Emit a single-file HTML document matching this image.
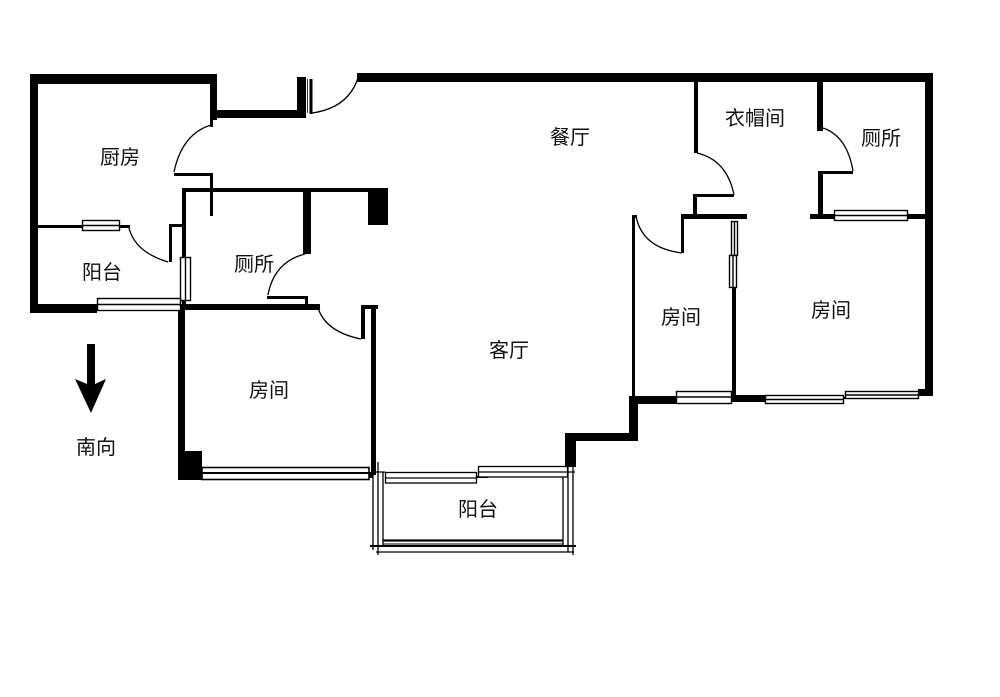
<!DOCTYPE html>
<html><head><meta charset="utf-8"><style>
html,body{margin:0;padding:0;background:#fff;width:1000px;height:697px;overflow:hidden}
svg{display:block}
text{font-family:"Liberation Sans","Noto Sans CJK SC",sans-serif;font-size:20px;fill:#111}
</style></head><body>
<svg width="1000" height="697" viewBox="0 0 1000 697" xmlns="http://www.w3.org/2000/svg">
<rect width="1000" height="697" fill="#fff"/>
<g style="filter:blur(.35px)">
<g fill="#000">
<!-- kitchen outer -->
<rect x="30" y="74" width="187" height="10"/>
<rect x="30" y="74" width="8" height="239"/>
<rect x="30" y="304" width="67" height="9"/>
<rect x="210" y="74" width="7" height="46"/>
<rect x="210" y="110" width="96" height="8"/>
<rect x="297" y="77" width="9" height="41"/>
<rect x="210" y="118" width="3" height="9"/>
<!-- top wall / right wall -->
<rect x="357" y="73" width="576" height="9"/>
<rect x="925" y="73" width="8" height="323"/>
<!-- kitchen door -->
<rect x="174" y="173" width="39" height="3"/>
<rect x="210" y="173" width="3" height="43"/>
<!-- bath top -->
<rect x="182" y="188" width="190" height="4"/>
<rect x="368" y="188" width="20" height="37"/>
<rect x="182" y="188" width="4" height="120"/>
<rect x="303" y="188" width="8" height="66"/>
<!-- balcony partition -->
<rect x="38" y="225" width="44" height="3"/>
<rect x="119" y="225" width="11" height="3"/>
<rect x="169" y="224" width="3" height="38"/>
<rect x="169" y="224" width="14" height="3"/>
<!-- horizontal y 306 -->
<rect x="180" y="304" width="140" height="6"/>
<rect x="267" y="296" width="41" height="3"/>
<rect x="305" y="296" width="3" height="9"/>
<!-- lower room -->
<rect x="178" y="304" width="7" height="176"/>
<rect x="178" y="451" width="24" height="29"/>
<rect x="361" y="305" width="4" height="34"/>
<rect x="361" y="305" width="17" height="4"/>
<rect x="371" y="305" width="5" height="170"/>
<!-- step walls -->
<rect x="565" y="433" width="11" height="34"/>
<rect x="565" y="433" width="73" height="8"/>
<rect x="629" y="396" width="9" height="45"/>
<rect x="629" y="396" width="47" height="8"/>
<rect x="632" y="215" width="3" height="182"/>
<rect x="632" y="215" width="5" height="3"/>
<rect x="731" y="395" width="34" height="7"/>
<rect x="732" y="287" width="4" height="112"/>
<!-- cloakroom -->
<rect x="694" y="82" width="4" height="71"/>
<rect x="693" y="194" width="41" height="3"/>
<rect x="693" y="194" width="4" height="22"/>
<rect x="682" y="214" width="65" height="5"/>
<rect x="681" y="214" width="3" height="39"/>
<!-- right bath -->
<rect x="817" y="82" width="6" height="49"/>
<rect x="818" y="171" width="35" height="3"/>
<rect x="818" y="171" width="5" height="46"/>
<rect x="810" y="214" width="24" height="5"/>
<rect x="907" y="214" width="19" height="5"/>
<rect x="843" y="397" width="10" height="2"/>
<rect x="918" y="389" width="8" height="7"/>
<!-- balcony bits -->
<rect x="476" y="476" width="12" height="2"/>
<rect x="369" y="472" width="4" height="6"/>
</g>
<!-- windows -->
<g fill="#fff" stroke="#000" stroke-width="1.4">
<rect x="82.5" y="220.5" width="37" height="10"/><path d="M82 225.500H120"/>
<rect x="180.500" y="257.500" width="10" height="43"/><path d="M185.500 257V301"/>
<rect x="97.500" y="298.500" width="83" height="12"/><path d="M97 304.500H181"/>
<rect x="834.500" y="210.500" width="73" height="10"/><path d="M834 215.500H908"/>
<rect x="731.500" y="221.500" width="6" height="34"/><path d="M734.500 221V256"/>
<rect x="729.500" y="255.500" width="7" height="32"/><path d="M733 255V288"/>
<rect x="676.500" y="391.500" width="55" height="12"/><path d="M676 397H732"/>
<rect x="765.500" y="395.500" width="78" height="8"/><path d="M765 399.500H844"/>
<rect x="845.500" y="391.500" width="73" height="7"/><path d="M845 395H919"/>
</g>
<!-- lower room sliding window -->
<g fill="#fff" stroke="#000" stroke-width="1.6">
<rect x="202" y="467.500" width="167" height="12"/>
<path d="M202 473H369" stroke-width="2"/>
</g>
<!-- balcony -->
<g fill="none" stroke="#000" stroke-width="1.300">
<path d="M373 472V550M378 462V555M383 472V545"/>
<path d="M563 472V545M568 466V552M573 466V555"/>
<path d="M373 472H385M567 472H575"/>
<path d="M376 552H574"/>
<path d="M370 546H576" stroke-width="2"/>
<path d="M383 540.500H563" stroke-width="2.200"/>
<path d="M383 544H563" stroke-width="1"/>
</g>
<g fill="#fff" stroke="#000" stroke-width="1.300">
<rect x="385.500" y="472.500" width="91" height="10.500"/><path d="M385 478H477" fill="none"/>
<rect x="478.500" y="466.500" width="89" height="10.500"/><path d="M478 472H568" fill="none"/>
</g>
<!-- door leaves -->
<path d="M307.500 79V113" fill="none" stroke="#333" stroke-width="1"/>
<rect x="309.500" y="79" width="3" height="35" fill="#000"/>
<g fill="none" stroke="#000" stroke-width="1.300">
<path d="M312 113Q348 108 358 78"/>
<path d="M211 125Q182 134 174 172"/>
<path d="M129 228Q135 252 168 262"/>
<path d="M305 254Q274 262 268 295"/>
<path d="M318 308Q326 332 361 339"/>
<path d="M697 153Q727 160 734 195"/>
<path d="M682 253Q642 248 636 216"/>
<path d="M823 128Q847 136 853 171"/>
</g>
<!-- arrow -->
<path d="M87 344H95V384L106 379L91 413L75 379L87 384Z" fill="#000"/>
</g>
<!-- labels -->
<text x="100" y="164">厨房</text>
<text x="82" y="279">阳台</text>
<text x="234" y="271">厕所</text>
<text x="550" y="144">餐厅</text>
<text x="725" y="125">衣帽间</text>
<text x="861" y="145">厕所</text>
<text x="661" y="324">房间</text>
<text x="811" y="317">房间</text>
<text x="489" y="357">客厅</text>
<text x="249" y="397">房间</text>
<text x="458" y="516">阳台</text>
<text x="76" y="454">南向</text>
</svg>
</body></html>
